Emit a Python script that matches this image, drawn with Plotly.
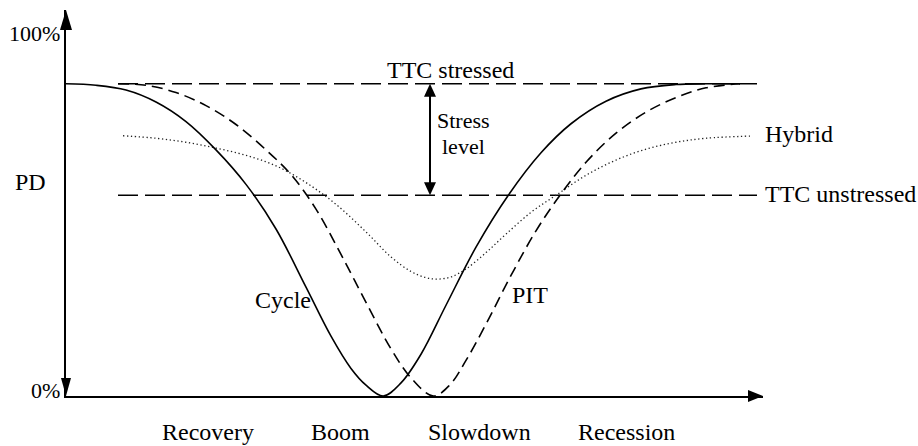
import plotly.graph_objects as go

# ---- data (x: position along the cycle, y: PD in %) ----
cycle_x = [0, 30, 60, 90, 120, 150, 180, 210, 240, 265, 285, 300, 317.3,
           335, 355, 380, 410, 442.3, 475, 505, 540, 575, 610, 640, 674]
cycle_y = [86.0, 85.6, 84.3, 81.0, 75.6, 67.8, 58.3, 46.0, 30.0, 16.5, 7.6, 3.0, 0,
           3.6, 11.5, 25.0, 41.0, 55.3, 67.0, 75.0, 81.2, 84.6, 85.8, 86.0, 86.0]

pit_x = [52, 80, 110, 140, 170, 200, 225, 250, 275, 300, 325, 345, 367.3,
         384, 400, 420, 445, 470, 494, 520, 550, 580, 610, 640, 674]
pit_y = [86.0, 85.6, 83.6, 80.0, 74.8, 67.8, 61.0, 51.5, 39.0, 25.8, 13.0, 5.0, 0,
         3.1, 9.8, 19.8, 33.2, 45.5, 55.3, 64.4, 72.4, 78.2, 82.2, 84.9, 86.0]

hybrid_x = [57, 90, 120, 150, 180, 210, 240, 270, 300, 325, 345, 360, 372,
            385, 400, 420, 440, 465, 490, 520, 550, 580, 610, 640, 684]
hybrid_y = [71.7, 71.0, 69.9, 68.3, 66.3, 63.4, 58.8, 52.8, 45.2, 38.3, 34.3, 32.6, 32.2,
            32.8, 35.0, 39.5, 44.6, 50.6, 55.3, 60.8, 65.0, 68.0, 69.9, 71.0, 71.6]

ttc_x = [52, 691]
ttc_stressed = 86.0
ttc_unstressed = 55.3
stress_arrow_x = 364

phase_labels = ["Recovery", "Boom", "Slowdown", "Recession"]
phase_pos = [141.5, 274, 413, 560]

y_tick_vals = [100, 1.6]
y_tick_text = ["100%", "0%"]

# ---- layout geometry ----
W, H = 918, 446
ML, MR, MT, MB = 66, 155, 10, 50
PW, PH = W - ML - MR, H - MT - MB
X_MAX = PW            # 1 unit per pixel horizontally
Y_PX = 3.63           # pixels per PD unit
Y_MAX = PH / Y_PX

FONT = "Liberation Serif, Times New Roman, serif"
BLACK = "black"

fig = go.Figure()

fig.add_trace(go.Scatter(x=ttc_x, y=[ttc_stressed] * 2, mode="lines",
                         line=dict(color=BLACK, width=1.5, dash="20px,7px"), hoverinfo="skip"))
fig.add_trace(go.Scatter(x=ttc_x, y=[ttc_unstressed] * 2, mode="lines",
                         line=dict(color=BLACK, width=1.5, dash="20px,7px"), hoverinfo="skip"))
fig.add_trace(go.Scatter(x=hybrid_x, y=hybrid_y, mode="lines", line_shape="spline",
                         line=dict(color="#222222", width=1.3, dash="1.3px,2.6px"), hoverinfo="skip"))
fig.add_trace(go.Scatter(x=pit_x, y=pit_y, mode="lines", line_shape="spline",
                         line=dict(color=BLACK, width=1.6, dash="11px,6px"), hoverinfo="skip"))
fig.add_trace(go.Scatter(x=cycle_x, y=cycle_y, mode="lines", line_shape="spline",
                         line=dict(color=BLACK, width=1.6), hoverinfo="skip"))


def pp(px, py):
    """pixel position -> paper coordinates string"""
    return f"{(px - ML) / PW:.5f},{(H - MB - py) / PH:.5f}"


shapes = []
# axis arrowheads (paper coords so they are not clipped)
shapes.append(dict(type="path", xref="paper", yref="paper", fillcolor=BLACK, line=dict(width=0),
                   path=f"M{pp(60, 30)} L{pp(72, 30)} L{pp(66, 10)} Z"))
shapes.append(dict(type="path", xref="paper", yref="paper", fillcolor=BLACK, line=dict(width=0),
                   path=f"M{pp(61, 378)} L{pp(71, 378)} L{pp(66, 396)} Z"))
shapes.append(dict(type="path", xref="paper", yref="paper", fillcolor=BLACK, line=dict(width=0),
                   path=f"M{pp(748, 390)} L{pp(748, 402)} L{pp(763, 396)} Z"))
# stress level double arrow
ah = 13 / Y_PX
shapes.append(dict(type="line", xref="x", yref="y", x0=stress_arrow_x, x1=stress_arrow_x,
                   y0=ttc_unstressed + ah * 0.5, y1=ttc_stressed - ah * 0.5,
                   line=dict(color=BLACK, width=2)))
shapes.append(dict(type="path", xref="x", yref="y", fillcolor=BLACK, line=dict(width=0),
                   path=f"M{stress_arrow_x - 6},{ttc_stressed - ah} L{stress_arrow_x + 6},{ttc_stressed - ah} "
                        f"L{stress_arrow_x},{ttc_stressed} Z"))
shapes.append(dict(type="path", xref="x", yref="y", fillcolor=BLACK, line=dict(width=0),
                   path=f"M{stress_arrow_x - 6},{ttc_unstressed + ah} L{stress_arrow_x + 6},{ttc_unstressed + ah} "
                        f"L{stress_arrow_x},{ttc_unstressed} Z"))

ann = []


def text(t, x, y, xanchor="center", size=24):
    ann.append(dict(text=t, x=x / X_MAX, y=y / Y_MAX, xref="paper", yref="paper", showarrow=False,
                    xanchor=xanchor, yanchor="middle", font=dict(family=FONT, size=size, color=BLACK)))


text("TTC stressed", 384, 89.8)
text("Stress", 397, 76.0, size=22)
text("level", 397, 68.6, size=22)
text("Hybrid", X_MAX, 72.2, xanchor="left")
text("TTC unstressed", X_MAX, 55.6, xanchor="left")
text("Cycle", 217, 26.4)
text("PIT", 464, 27.8)
text("PD", -36, 59.0)
for v, t in zip(y_tick_vals, y_tick_text):
    text(t, -4, v, xanchor="right", size=22)
for p, t in zip(phase_pos, phase_labels):
    text(t, p, -9.9)

fig.update_layout(
    width=W, height=H,
    margin=dict(l=ML, r=MR, t=MT, b=MB, pad=0),
    paper_bgcolor="white", plot_bgcolor="white",
    showlegend=False,
    shapes=shapes, annotations=ann,
    xaxis=dict(range=[0, X_MAX], showgrid=False, zeroline=False, showticklabels=False,
               ticks="", showline=True, linecolor=BLACK, linewidth=2),
    yaxis=dict(range=[0, Y_MAX], showgrid=False, zeroline=False, showticklabels=False,
               ticks="", showline=True, linecolor=BLACK, linewidth=2),
)

fig.write_html("out.html", config={"displayModeBar": False},
               post_script="document.body.style.margin='0px';")
